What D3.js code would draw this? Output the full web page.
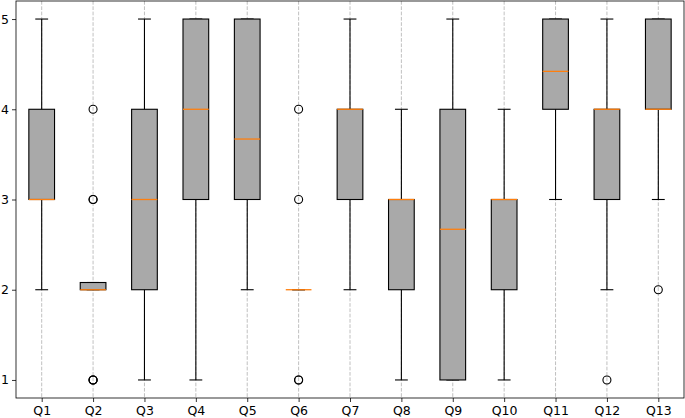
<!DOCTYPE html>
<html><head><meta charset="utf-8">
<script src="https://cdn.jsdelivr.net/npm/d3@7"></script>
<style>body{margin:0;background:#fff;}svg{display:block;font-family:"DejaVu Sans",sans-serif;}</style>
</head><body><svg id="c" width="685" height="418"></svg>
<script>
const categories = ["Q1","Q2","Q3","Q4","Q5","Q6","Q7","Q8","Q9","Q10","Q11","Q12","Q13"];
const whiskerLow  = [2, 2,    1, 1, 2, 2, 2, 1, 1, 1, 3, 2, 3];
const q1s         = [3, 2,    2, 3, 3, 2, 3, 2, 1, 2, 4, 3, 4];
const medians     = [3, 2,    3, 4, 3.67, 2, 4, 3, 2.67, 3, 4.42, 4, 4];
const q3s         = [4, 2.08, 4, 5, 5, 2, 4, 3, 4, 3, 5, 4, 5];
const whiskerHigh = [5, 2.08, 5, 5, 5, 2, 5, 4, 5, 4, 5, 5, 5];
const fliers      = [[], [4,3,3,1,1,1], [], [], [], [4,3,1,1], [], [], [], [], [], [1], [2]];
const yTicks = [1,2,3,4,5];

const svg = d3.select("#c");
const L = 16, R = 684, T = 1, B = 398;
const x = d3.scaleLinear().domain([0.5, 13.5]).range([L, R]);
const y = d3.scaleLinear().domain([0.8, 5.2]).range([B, T]);
const bw = x(1.25) - x(1);   // half box width
const cw = x(1.125) - x(1);  // half cap width

// grid
const g = svg.append("g");
categories.forEach((c,i)=>{
  g.append("line").attr("x1",x(i+1)).attr("x2",x(i+1)).attr("y1",T).attr("y2",B)
   .attr("stroke","#b0b0b0").attr("stroke-width",0.8).attr("stroke-dasharray","3.7,1.6");
});

// axes
const xa = svg.append("g").attr("transform",`translate(0,${B})`)
  .call(d3.axisBottom(x).tickValues(categories.map((c,i)=>i+1)).tickFormat((d)=>categories[d-1]).tickSize(4).tickPadding(4).tickSizeOuter(0));
const ya = svg.append("g").attr("transform",`translate(${L},0)`)
  .call(d3.axisLeft(y).tickValues(yTicks).tickFormat(d3.format("d")).tickSize(4).tickPadding(3).tickSizeOuter(0));
[xa,ya].forEach(a=>{a.select(".domain").remove();a.selectAll("text").attr("font-size","12.5px").attr("fill","#000").attr("font-family","DejaVu Sans");a.selectAll("line").attr("stroke","#000").attr("stroke-width",0.8);});

// boxes
const bx = svg.append("g");
categories.forEach((c,i)=>{
  const cx = x(i+1);
  const sw = 1.1;
  bx.append("line").attr("x1",cx).attr("x2",cx).attr("y1",y(q3s[i])).attr("y2",y(whiskerHigh[i])).attr("stroke","#000").attr("stroke-width",sw);
  bx.append("line").attr("x1",cx).attr("x2",cx).attr("y1",y(q1s[i])).attr("y2",y(whiskerLow[i])).attr("stroke","#000").attr("stroke-width",sw);
  bx.append("line").attr("x1",cx-cw).attr("x2",cx+cw).attr("y1",y(whiskerHigh[i])).attr("y2",y(whiskerHigh[i])).attr("stroke","#000").attr("stroke-width",sw);
  bx.append("line").attr("x1",cx-cw).attr("x2",cx+cw).attr("y1",y(whiskerLow[i])).attr("y2",y(whiskerLow[i])).attr("stroke","#000").attr("stroke-width",sw);
  bx.append("rect").attr("x",cx-bw).attr("width",2*bw).attr("y",y(q3s[i])).attr("height",Math.max(0,y(q1s[i])-y(q3s[i])))
    .attr("fill","#a9a9a9").attr("stroke","#000").attr("stroke-width",sw);
  bx.append("line").attr("x1",cx-bw).attr("x2",cx+bw).attr("y1",y(medians[i])).attr("y2",y(medians[i])).attr("stroke","#ff7f0e").attr("stroke-width",1.3);
  fliers[i].forEach(v=>{
    bx.append("circle").attr("cx",cx).attr("cy",y(v)).attr("r",4).attr("fill","none").attr("stroke","#000").attr("stroke-width",1.1);
  });
});

// frame
svg.append("rect").attr("x",L).attr("y",T).attr("width",R-L).attr("height",B-T).attr("fill","none").attr("stroke","#000").attr("stroke-width",0.8);
</script></body></html>
